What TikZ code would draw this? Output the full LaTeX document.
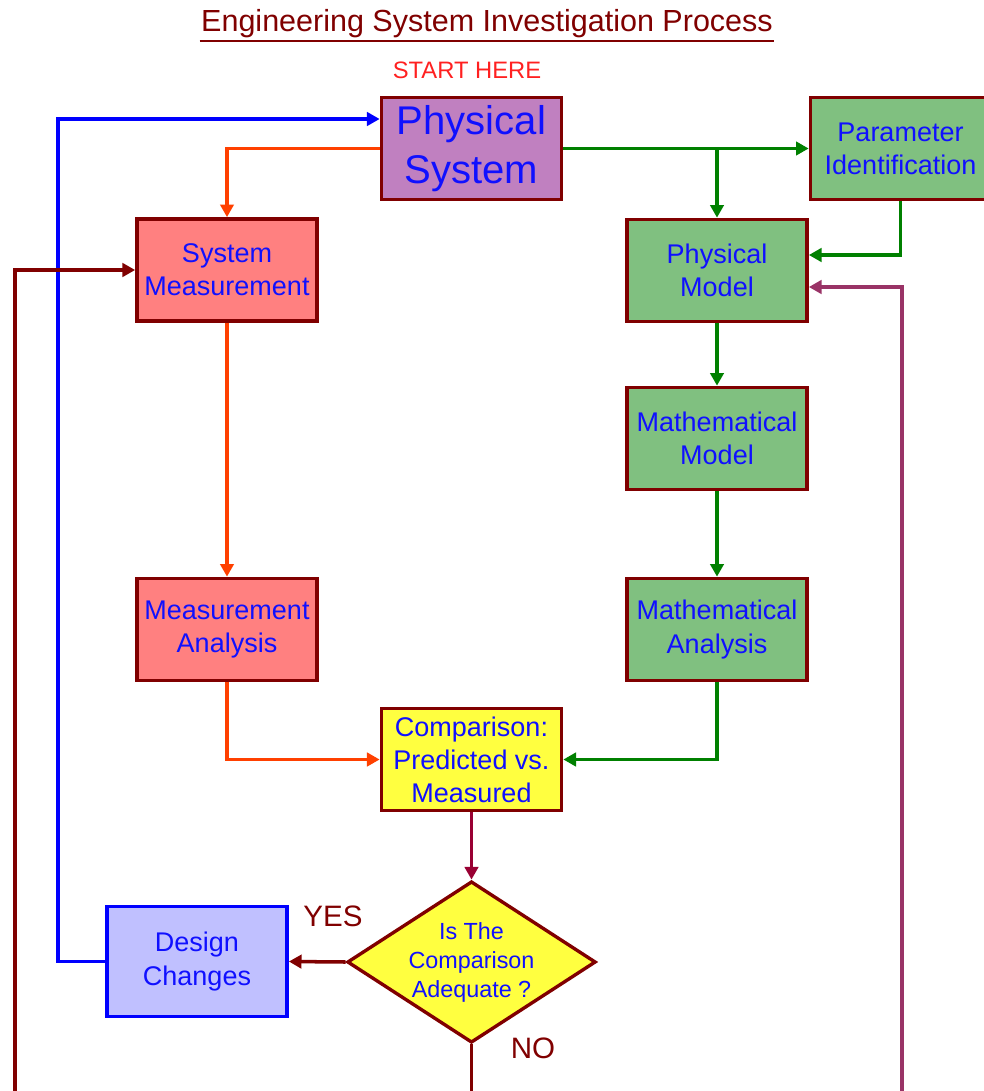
\documentclass[tikz,border=0pt]{standalone}
\usepackage{fontspec}
\setmainfont{Liberation Sans}
\usetikzlibrary{shapes.geometric,arrows.meta}
\definecolor{frame}{HTML}{800000}
\definecolor{txtblue}{HTML}{1010FF}
\definecolor{purplefill}{HTML}{C080C0}
\definecolor{greenfill}{HTML}{80C080}
\definecolor{redfill}{HTML}{FF8080}
\definecolor{yellowfill}{HTML}{FFFF40}
\definecolor{lavender}{HTML}{C0C0FF}
\definecolor{orangeline}{HTML}{FF4000}
\definecolor{greenline}{HTML}{008000}
\definecolor{plumline}{HTML}{993366}
\definecolor{crimsonline}{HTML}{990033}
\definecolor{startred}{HTML}{FF2020}
\begin{document}
\begin{tikzpicture}[x=0.025cm,y=-0.025cm,
		box/.style={draw=frame,line width=2.6pt,minimum width=4.5cm,minimum height=2.55cm,
			align=center,text=txtblue,font=\fontsize{19.2}{23.5}\selectfont},
		decision/.style={diamond,draw=frame,line width=2.4pt,fill=yellowfill,aspect=1.54,inner sep=0pt,
			minimum width=6.0cm,minimum height=3.9cm,align=center,text=txtblue,
			font=\fontsize{16.6}{20.6}\selectfont},
		wire/.style={line width=2.5pt},
		link/.style={wire,-{Triangle[length=9pt,width=9.5pt]}}]
	\clip (0,0) rectangle (984,1091);
	% titles
	\node[text=frame,font=\fontsize{21.7}{26}\selectfont,inner sep=1pt] (title) at (487,24) {Engineering System Investigation Process};
	\draw[frame,line width=1.6pt] ([yshift=-1pt]title.south west) -- ([yshift=-1pt]title.south east);
	\node[text=startred,font=\fontsize{16.9}{20}\selectfont] (start) at (467,70) {START HERE};
	% boxes
	\node[box,fill=purplefill,font=\fontsize{28.5}{35}\selectfont] (phys) at (471.5,148.5) {Physical\\System};
	\node[box,fill=greenfill] (param) at (900.5,148.5) {Parameter\\Identification};
	\node[box,fill=redfill] (meas) at (227,270) {System\\Measurement};
	\node[box,fill=greenfill] (pmodel) at (717,270.5) {Physical\\Model};
	\node[box,fill=greenfill] (mmodel) at (717,438.5) {Mathematical\\Model};
	\node[box,fill=redfill] (manal) at (227,629.5) {Measurement\\Analysis};
	\node[box,fill=greenfill] (mathan) at (717,629.5) {Mathematical\\Analysis};
	\node[box,fill=yellowfill] (comp) at (471.5,759.5) {Comparison:\\Predicted vs.\\Measured};
	\node[decision] (adequate) at (471.5,962) {Is The\\Comparison\\Adequate ?};
	\node[box,draw=blue,fill=lavender,minimum height=2.75cm] (design) at (197,961.5) {Design\\Changes};
	\node[text=frame,font=\fontsize{21}{25}\selectfont] (yes) at (333,916) {YES};
	\node[text=frame,font=\fontsize{21}{25}\selectfont] (no) at (533,1048) {NO};
	% loose ends at the bottom
	\coordinate (lbot) at (15,1095);
	\coordinate (rbot) at (902,1095);
	\coordinate (nobot) at (471.5,1095);
	% connectors
	\draw[link,blue] (design.west) -- ++(-47,0) |- (phys.west |- 0,119);
	\draw[link,orangeline] (phys.west) -| (meas.north);
	\draw[link,greenline] (phys.east) -- (param.west);
	\draw[link,greenline] (pmodel.north |- phys.east) -- (pmodel.north);
	\draw[link,greenline] (param.south) |- (pmodel.east |- 0,255);
	\draw[link,plumline] (rbot) |- (pmodel.east |- 0,287);
	\draw[link,frame] (lbot) |- (meas.west);
	\draw[link,orangeline] (meas) -- (manal);
	\draw[link,greenline] (pmodel) -- (mmodel);
	\draw[link,greenline] (mmodel) -- (mathan);
	\draw[link,orangeline] (manal.south) |- (comp.west);
	\draw[link,greenline] (mathan.south) |- (comp.east);
	\draw[link,crimsonline] (comp) -- (adequate);
	\draw[link,frame] (adequate.west) -- (design.east);
	\draw[wire,frame] (adequate.south) -- (nobot);
\end{tikzpicture}
\end{document}
